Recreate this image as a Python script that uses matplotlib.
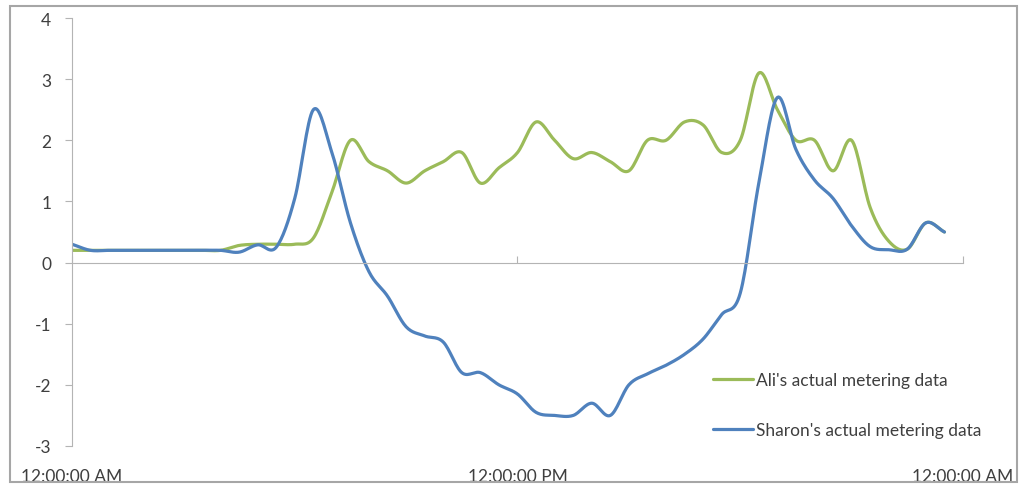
import numpy as np
import matplotlib.pyplot as plt
from matplotlib.patches import Rectangle

plt.rcParams['font.family'] = ['Lato', 'DejaVu Sans']
plt.rcParams['axes.unicode_minus'] = False

# half-hourly readings, midnight to 11:30 PM
hours = np.arange(48) * 0.5
ali = [0.2, 0.2, 0.2, 0.2, 0.2, 0.2, 0.2, 0.2, 0.2, 0.28, 0.3, 0.3,
       0.3, 0.4, 1.15, 2.0, 1.65, 1.5, 1.3, 1.5, 1.65, 1.8, 1.3, 1.55,
       1.8, 2.3, 2.0, 1.7, 1.8, 1.65, 1.5, 2.0, 2.0, 2.3, 2.25, 1.8,
       2.0, 3.1, 2.5, 2.0, 2.0, 1.5, 2.0, 0.9, 0.35, 0.22, 0.65, 0.5]
sharon = [0.3, 0.2, 0.2, 0.2, 0.2, 0.2, 0.2, 0.2, 0.2, 0.17, 0.29, 0.25,
          1.05, 2.5, 1.8, 0.65, -0.15, -0.55, -1.05, -1.2, -1.3, -1.8, -1.8, -2.0,
          -2.15, -2.45, -2.5, -2.5, -2.3, -2.5, -2.0, -1.82, -1.68, -1.5, -1.25, -0.85,
          -0.5, 1.3, 2.7, 1.85, 1.35, 1.05, 0.6, 0.26, 0.21, 0.22, 0.65, 0.5]
xtick_pos = [0, 12, 24]
xtick_labels = ["12:00:00 AM", "12:00:00 PM", "12:00:00 AM"]

ali_color = "#9BBB59"
sharon_color = "#4F81BD"
text_color = "#3F3F3F"
axis_color = "#B4B4B4"


def smooth(x, y, steps=16):
    # Catmull-Rom spline through the points, like a smoothed line in a spreadsheet chart
    x = np.asarray(x, float)
    y = np.asarray(y, float)
    px = np.concatenate([[2 * x[0] - x[1]], x, [2 * x[-1] - x[-2]]])
    py = np.concatenate([[2 * y[0] - y[1]], y, [2 * y[-1] - y[-2]]])
    t = np.linspace(0, 1, steps, endpoint=False)
    xs, ys = [], []
    for i in range(1, len(px) - 2):
        for p, out in ((px, xs), (py, ys)):
            p0, p1, p2, p3 = p[i - 1], p[i], p[i + 1], p[i + 2]
            out.append(0.5 * (2 * p1 + (p2 - p0) * t
                              + (2 * p0 - 5 * p1 + 4 * p2 - p3) * t ** 2
                              + (3 * p1 - p0 - 3 * p2 + p3) * t ** 3))
    xs.append([x[-1]])
    ys.append([y[-1]])
    return np.concatenate(xs), np.concatenate(ys)


fig = plt.figure(figsize=(10.2, 4.85), dpi=100)
ax = fig.add_axes([72 / 1020, 1 - 447 / 485, (963 - 72) / 1020, (447 - 19) / 485])

ax.plot(*smooth(hours, ali), color=ali_color, lw=2.3, label="Ali's actual metering data",
        solid_capstyle="round")
ax.plot(*smooth(hours, sharon), color=sharon_color, lw=2.3, label="Sharon's actual metering data",
        solid_capstyle="round")

ax.set_xlim(0, 24)
ax.set_ylim(-3, 4)
ax.set_yticks(range(-3, 5))

for side in ("top", "right"):
    ax.spines[side].set_visible(False)
ax.spines["left"].set_color(axis_color)
ax.spines["bottom"].set_color(axis_color)
ax.spines["bottom"].set_position(("data", 0))

ax.tick_params(axis="y", direction="out", length=5, color=axis_color,
               labelcolor=text_color, labelsize=12.5, pad=10)
ax.set_xticks(xtick_pos)
ax.tick_params(axis="x", direction="in", length=5, color=axis_color, labelbottom=False)

# category labels sit below the plot, not on the zero line
sec = ax.secondary_xaxis("bottom")
sec.spines["bottom"].set_visible(False)
sec.set_xticks(xtick_pos, labels=xtick_labels)
sec.tick_params(length=0, pad=16, labelsize=12.5, labelcolor=text_color)

leg = ax.legend(loc="upper left", bbox_to_anchor=(713 / 1020, 1 - 373 / 485),
                bbox_transform=fig.transFigure, frameon=False, borderpad=0,
                borderaxespad=0, handlelength=2.3, handletextpad=0.15,
                labelspacing=1.95, fontsize=12.5)
for txt in leg.get_texts():
    txt.set_color(text_color)

fig.patches.append(Rectangle((10 / 1020, 2 / 485), 1007 / 1020, 476 / 485,
                             transform=fig.transFigure, fill=False,
                             ec="#A6A6A6", lw=1.5))

fig.savefig("out.png", dpi=100)
